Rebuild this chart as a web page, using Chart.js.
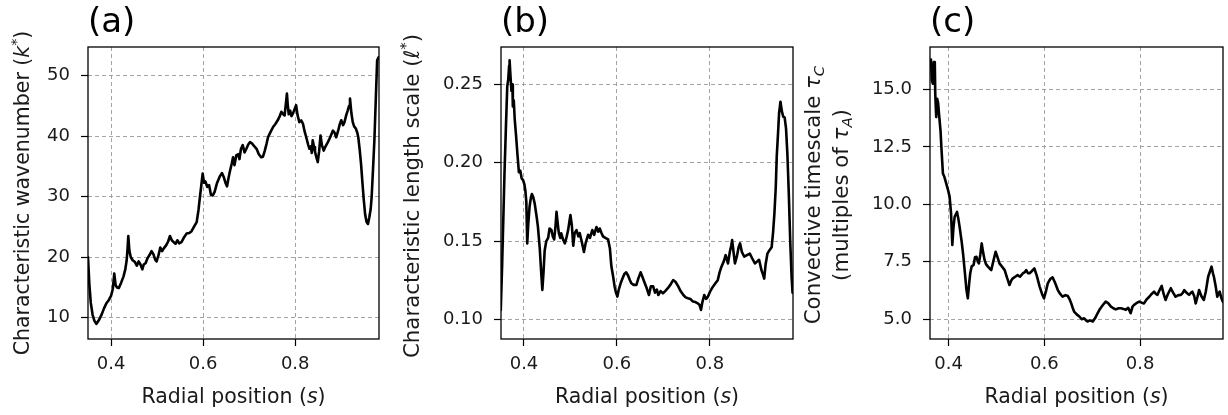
<!DOCTYPE html>
<html><head><meta charset="utf-8">
<script src="https://cdn.jsdelivr.net/npm/chart.js@4.4.1/dist/chart.umd.min.js"></script>
<style>
html,body{margin:0;padding:0;background:#fff;width:1228px;height:415px;overflow:hidden;}
.p{position:absolute;top:0;height:415px;}
canvas{display:block;}
</style></head><body>
<div class="p" style="left:0;width:400px"><canvas id="ca" width="400" height="415"></canvas></div>
<div class="p" style="left:400px;width:400px"><canvas id="cb" width="400" height="415"></canvas></div>
<div class="p" style="left:795px;width:433px"><canvas id="cc" width="433" height="415"></canvas></div>
<script>
// ---------- data ----------
const xTicks = [0.4, 0.6, 0.8];
const yTicksA = [10, 20, 30, 40, 50];
const yTicksB = [0.10, 0.15, 0.20, 0.25];
const yTicksC = [5.0, 7.5, 10.0, 12.5, 15.0];

// (a) characteristic wavenumber k*
const sA = [0.350,0.353,0.356,0.360,0.364,0.368,0.371,0.375,0.380,0.385,0.390,0.395,0.400,0.404,0.407,0.410,0.413,0.417,0.422,0.427,0.431,0.434,0.436,0.4375,0.440,0.443,0.447,0.452,0.456,0.460,0.464,0.468,0.471,0.475,0.479,0.484,0.488,0.492,0.496,0.499,0.503,0.507,0.511,0.515,0.520,0.524,0.528,0.532,0.536,0.540,0.544,0.548,0.553,0.558,0.564,0.570,0.575,0.580,0.586,0.590,0.593,0.596,0.599,0.602,0.605,0.609,0.613,0.617,0.621,0.625,0.630,0.636,0.641,0.645,0.649,0.652,0.655,0.658,0.662,0.665,0.668,0.672,0.676,0.679,0.682,0.686,0.690,0.694,0.698,0.702,0.706,0.710,0.716,0.721,0.726,0.730,0.734,0.738,0.741,0.746,0.752,0.757,0.762,0.766,0.770,0.774,0.777,0.780,0.782,0.784,0.786,0.789,0.792,0.795,0.799,0.802,0.805,0.809,0.813,0.817,0.821,0.824,0.828,0.831,0.834,0.836,0.838,0.841,0.843,0.846,0.849,0.852,0.855,0.858,0.862,0.866,0.871,0.876,0.882,0.886,0.889,0.893,0.897,0.900,0.904,0.907,0.911,0.914,0.917,0.919,0.922,0.925,0.928,0.932,0.935,0.937,0.940,0.943,0.946,0.949,0.952,0.955,0.958,0.961,0.964,0.966,0.969,0.972,0.975,0.978,0.981];
const kA = [20.0,15.5,12.5,10.5,9.5,9.0,9.3,9.8,10.6,11.6,12.4,12.9,13.6,14.8,17.3,15.4,15.0,14.9,15.8,16.8,18.0,19.5,21.5,23.5,21.0,20.0,19.5,19.2,18.6,19.3,18.8,18.0,18.8,19.0,19.8,20.4,21.0,20.5,19.6,19.3,20.3,21.6,21.0,21.5,22.0,22.6,23.5,22.8,22.5,22.2,22.8,22.3,22.5,23.2,23.9,24.0,24.3,25.0,25.8,27.8,29.9,31.8,33.8,32.3,32.5,31.6,31.9,30.3,30.2,30.8,32.2,33.3,33.9,33.2,32.2,31.7,33.0,34.1,35.4,36.5,35.2,36.8,37.0,36.2,37.8,38.5,37.3,37.9,38.6,39.0,38.8,38.4,37.9,37.0,36.5,36.6,37.6,38.8,39.8,40.6,41.5,42.0,42.6,43.2,44.0,43.6,43.4,45.5,47.0,45.0,43.6,44.2,43.3,43.7,44.5,45.1,43.5,42.3,42.6,42.0,40.6,39.8,38.6,37.9,38.3,37.2,39.3,38.2,37.4,36.5,35.7,37.5,40.1,38.5,37.6,38.3,39.0,39.8,40.9,40.5,39.8,40.8,42.0,42.6,41.8,42.3,43.5,44.2,45.0,46.2,43.8,42.3,41.6,41.2,40.5,39.8,37.8,35.4,32.3,29.4,27.0,25.8,25.5,26.6,28.0,29.9,34.5,39.3,46.0,52.5,53.0];

// (b) characteristic length scale l*
const sB = [0.350,0.353,0.356,0.358,0.361,0.364,0.366,0.368,0.369,0.371,0.373,0.375,0.376,0.378,0.380,0.383,0.386,0.389,0.392,0.395,0.398,0.401,0.403,0.405,0.407,0.409,0.412,0.415,0.417,0.420,0.423,0.427,0.430,0.434,0.437,0.4395,0.442,0.4445,0.448,0.452,0.455,0.459,0.462,0.465,0.468,0.470,0.473,0.475,0.478,0.480,0.484,0.488,0.492,0.495,0.498,0.500,0.503,0.506,0.509,0.513,0.517,0.520,0.524,0.529,0.533,0.538,0.542,0.547,0.551,0.556,0.560,0.563,0.567,0.570,0.575,0.581,0.585,0.588,0.592,0.595,0.598,0.601,0.604,0.608,0.612,0.616,0.620,0.624,0.628,0.631,0.636,0.642,0.646,0.651,0.655,0.660,0.664,0.669,0.673,0.678,0.682,0.686,0.689,0.694,0.699,0.704,0.710,0.715,0.721,0.726,0.732,0.737,0.743,0.748,0.753,0.758,0.764,0.769,0.775,0.778,0.781,0.784,0.788,0.792,0.796,0.801,0.807,0.812,0.817,0.821,0.825,0.830,0.834,0.837,0.839,0.843,0.846,0.848,0.851,0.854,0.858,0.862,0.865,0.869,0.874,0.880,0.886,0.891,0.897,0.902,0.906,0.911,0.914,0.917,0.920,0.924,0.928,0.933,0.936,0.939,0.942,0.944,0.947,0.949,0.952,0.955,0.958,0.961,0.964,0.967,0.970,0.973,0.976,0.978];
const lB = [0.106,0.135,0.170,0.193,0.222,0.249,0.253,0.262,0.2655,0.255,0.246,0.250,0.236,0.240,0.228,0.217,0.205,0.194,0.195,0.190,0.189,0.186,0.182,0.175,0.1485,0.160,0.172,0.178,0.180,0.178,0.174,0.166,0.159,0.145,0.130,0.1187,0.130,0.144,0.150,0.152,0.158,0.157,0.153,0.151,0.160,0.1687,0.160,0.155,0.152,0.155,0.151,0.1485,0.153,0.157,0.163,0.1666,0.160,0.147,0.155,0.157,0.153,0.155,0.150,0.143,0.149,0.154,0.152,0.157,0.154,0.159,0.156,0.158,0.155,0.153,0.152,0.151,0.145,0.134,0.127,0.121,0.117,0.1145,0.119,0.123,0.126,0.129,0.130,0.128,0.125,0.123,0.122,0.122,0.126,0.130,0.127,0.123,0.120,0.1155,0.121,0.121,0.117,0.119,0.1155,0.118,0.1166,0.118,0.120,0.122,0.125,0.124,0.121,0.118,0.1155,0.114,0.1134,0.113,0.1113,0.111,0.110,0.109,0.106,0.111,0.1155,0.113,0.1145,0.118,0.121,0.123,0.125,0.130,0.1336,0.137,0.141,0.138,0.1357,0.143,0.147,0.1506,0.143,0.1357,0.140,0.146,0.1485,0.143,0.140,0.141,0.142,0.139,0.1357,0.137,0.138,0.1315,0.129,0.126,0.135,0.142,0.144,0.146,0.155,0.1677,0.185,0.204,0.220,0.2315,0.239,0.233,0.2294,0.229,0.222,0.205,0.180,0.150,0.127,0.117];

// (c) convective timescale tau_C
const sC = [0.361,0.363,0.365,0.367,0.369,0.371,0.372,0.374,0.376,0.378,0.380,0.383,0.385,0.388,0.391,0.395,0.399,0.402,0.405,0.4076,0.410,0.4125,0.4174,0.420,0.423,0.427,0.430,0.434,0.437,0.440,0.443,0.445,0.448,0.452,0.455,0.458,0.461,0.463,0.466,0.469,0.472,0.475,0.478,0.482,0.486,0.489,0.493,0.498,0.502,0.506,0.511,0.517,0.522,0.527,0.531,0.534,0.539,0.544,0.549,0.555,0.559,0.562,0.566,0.569,0.574,0.579,0.584,0.590,0.595,0.599,0.603,0.607,0.612,0.617,0.622,0.628,0.633,0.638,0.644,0.649,0.653,0.656,0.659,0.662,0.668,0.673,0.678,0.683,0.687,0.690,0.695,0.701,0.706,0.711,0.716,0.722,0.728,0.733,0.739,0.744,0.749,0.755,0.760,0.765,0.770,0.775,0.780,0.784,0.787,0.792,0.798,0.803,0.808,0.813,0.819,0.824,0.829,0.833,0.836,0.840,0.845,0.849,0.853,0.858,0.864,0.869,0.874,0.880,0.885,0.889,0.892,0.897,0.902,0.906,0.909,0.913,0.916,0.920,0.923,0.928,0.933,0.937,0.942,0.946,0.949,0.952,0.954,0.958,0.961,0.966,0.970,0.973];
const tC = [16.2,16.3,15.4,15.25,16.2,16.2,14.8,13.8,14.6,14.4,13.9,13.2,12.4,11.34,11.2,10.9,10.6,10.33,9.6,8.23,9.0,9.46,9.67,9.4,9.0,8.4,7.87,7.0,6.3,5.91,6.6,7.0,7.3,7.36,7.7,7.72,7.5,7.43,7.8,8.3,7.9,7.58,7.4,7.29,7.2,7.14,7.5,7.94,7.7,7.43,7.3,7.14,6.8,6.49,6.7,6.78,6.85,6.92,6.85,7.0,7.05,7.14,7.0,7.0,7.1,7.21,6.9,6.42,6.1,5.91,6.2,6.56,6.75,6.82,6.6,6.27,6.1,5.98,6.05,6.01,5.85,5.69,5.5,5.33,5.2,5.12,5.0,5.04,4.95,4.9,4.95,4.9,5.05,5.26,5.45,5.62,5.77,5.7,5.55,5.48,5.43,5.48,5.48,5.45,5.41,5.5,5.26,5.55,5.62,5.7,5.77,5.72,5.69,5.85,5.98,6.1,6.2,6.1,6.06,6.25,6.45,6.1,5.84,6.1,6.35,6.15,5.98,6.05,6.06,6.15,6.27,6.15,6.06,6.15,6.2,6.0,5.69,6.0,6.27,6.0,5.84,6.2,6.85,7.1,7.29,7.0,6.85,6.4,5.98,6.2,5.9,5.75];

// ---------- rendering ----------
const FONT = 'DejaVu Sans';
Chart.defaults.font.family = FONT;

function drawRich(ctx, segs, x, y, size) {
  const parts = segs.map(s => {
    const small = s.sup || s.sub;
    const fs = small ? size * 0.7 : size;
    const font = (s.it ? 'italic ' : '') + fs + 'px "' + FONT + '"';
    ctx.font = font;
    return {t: s.t, font, w: ctx.measureText(s.t).width,
            dy: s.sup ? -size * 0.4 : (s.sub ? size * 0.2 : 0)};
  });
  const total = parts.reduce((a, p) => a + p.w, 0);
  let cx = x - total / 2;
  ctx.textAlign = 'left';
  ctx.textBaseline = 'alphabetic';
  parts.forEach(p => { ctx.font = p.font; ctx.fillText(p.t, cx, y + p.dy); cx += p.w; });
}

const X_TITLE = [{t: 'Radial position ('}, {t: 's', it: true}, {t: ')'}];

function makeDecor(cfg) {
  return {
    id: 'decor',
    afterDraw(chart) {
      const ctx = chart.ctx, a = chart.chartArea;
      ctx.save();
      ctx.strokeStyle = '#000';
      ctx.lineWidth = 1.3;
      ctx.strokeRect(a.left, a.top, a.right - a.left, a.bottom - a.top);
      ctx.fillStyle = '#1a1a1a';
      drawRich(ctx, X_TITLE, (a.left + a.right) / 2, 403, 20.5);
      const cy = (a.top + a.bottom) / 2;
      cfg.yLines.forEach(line => {
        ctx.save();
        ctx.translate(line.base, cy + line.shift);
        ctx.rotate(-Math.PI / 2);
        drawRich(ctx, line.segs, 0, 0, line.size);
        ctx.restore();
      });
      ctx.restore();
    }
  };
}

function makeChart(id, xs, ys, cfg) {
  const tickFont = {family: FONT, size: 18};
  const gridOpts = {color: '#9a9a9a', lineWidth: 0.9, tickLength: 7, tickColor: '#000', tickWidth: 1.2, tickBorderDash: []};
  return new Chart(document.getElementById(id), {
    type: 'line',
    data: {datasets: [{
      data: xs.map((x, i) => ({x: x, y: ys[i]})),
      borderColor: '#000', borderWidth: 2.6, pointRadius: 0, tension: 0,
      borderJoinStyle: 'round', borderCapStyle: 'round', fill: false
    }]},
    options: {
      responsive: false, animation: false, events: [],
      layout: {padding: {left: 0, right: cfg.padRight, top: 0, bottom: 0}},
      plugins: {
        legend: {display: false}, tooltip: {enabled: false},
        title: {display: true, text: cfg.title, align: 'start', fullSize: false, color: '#000',
                font: {family: FONT, size: 34, weight: 'normal', lineHeight: 1.2},
                padding: {top: 3, bottom: 3.2}}
      },
      scales: {
        x: {type: 'linear', min: cfg.xMin, max: cfg.xMax,
            afterFit: s => { s.height = 76; },
            afterBuildTicks: s => { s.ticks = xTicks.map(v => ({value: v})); },
            ticks: {font: tickFont, color: '#1a1a1a', padding: 8, maxRotation: 0, autoSkip: false,
                    callback: v => Number(v).toFixed(1)},
            grid: gridOpts, border: {display: false, dash: [4, 3]}},
        y: {type: 'linear', min: cfg.yMin, max: cfg.yMax,
            afterFit: s => { s.width = cfg.yWidth; },
            afterBuildTicks: s => { s.ticks = cfg.yTicks.map(v => ({value: v})); },
            ticks: {font: tickFont, color: '#1a1a1a', padding: 11, autoSkip: false,
                    callback: v => Number(v).toFixed(cfg.dec)},
            grid: gridOpts, border: {display: false, dash: [4, 3]}}
      }
    },
    plugins: [makeDecor(cfg)]
  });
}

makeChart('ca', sA, kA, {title: '(a)', padRight: 21, yWidth: 88, xMin: 0.35, xMax: 0.982,
  yMin: 6.5, yMax: 54.7, yTicks: yTicksA, dec: 0,
  yLines: [{base: 29, size: 20.5, shift: 0, segs: [{t: 'Characteristic wavenumber ('}, {t: 'k', it: true}, {t: '*', sup: true}, {t: ')'}]}]});

makeChart('cb', sB, lB, {title: '(b)', padRight: 7, yWidth: 101, xMin: 0.3505, xMax: 0.979,
  yMin: 0.0874, yMax: 0.274, yTicks: yTicksB, dec: 2,
  yLines: [{base: 19, size: 21.3, shift: 3, segs: [{t: 'Characteristic length scale ('}, {t: 'ℓ', it: true}, {t: '*', sup: true}, {t: ')'}]}]});

makeChart('cc', sC, tC, {title: '(c)', padRight: 5, yWidth: 135, xMin: 0.361, xMax: 0.973,
  yMin: 4.14, yMax: 16.85, yTicks: yTicksC, dec: 1,
  yLines: [{base: 25, size: 21.3, shift: 2, segs: [{t: 'Convective timescale '}, {t: 'τ', it: true}, {t: 'C', it: true, sub: true}]},
           {base: 53, size: 21.3, shift: 2, segs: [{t: '(multiples of '}, {t: 'τ', it: true}, {t: 'A', it: true, sub: true}, {t: ')'}]}]});
</script>
</body></html>
